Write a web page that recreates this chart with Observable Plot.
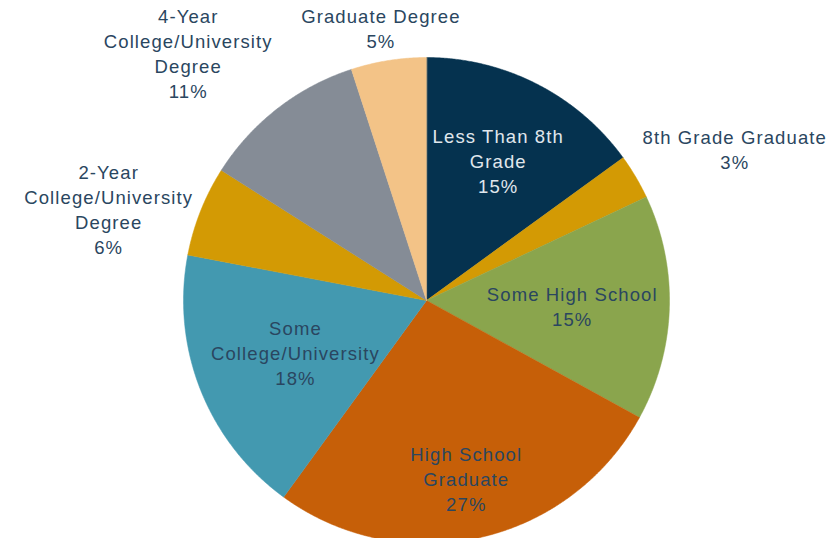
<!DOCTYPE html>
<html><head><meta charset="utf-8">
<script src="https://cdn.jsdelivr.net/npm/d3@7"></script>
<script src="https://cdn.jsdelivr.net/npm/@observablehq/plot@0.6"></script>
<style>body{margin:0;background:#fff}</style>
</head><body><div id="chart"></div>
<script>
// ---- data ----
const categories = ["Less Than 8th Grade", "8th Grade Graduate", "Some High School", "High School Graduate",
  "Some College/University", "2-Year College/University Degree", "4-Year College/University Degree", "Graduate Degree"];
const labelText = ["Less Than 8th\nGrade", "8th Grade Graduate", "Some High School", "High School\nGraduate",
  "Some\nCollege/University", "2-Year\nCollege/University\nDegree", "4-Year\nCollege/University\nDegree", "Graduate Degree"];
const shares = [15, 3, 15, 27, 18, 6, 11, 5];
const palette = ["#05324f", "#d39a04", "#8aa54d", "#c65f08", "#4399b0", "#d39a04", "#858c96", "#f3c387"];

// ---- layout ----
const W = 829, H = 538, cx = 426, cy = 300, R = 243;
const FONT = 18.5, LS = 1.1, LH = 25;
const dark = "#2a4660", light = "#e0e7ed";

const rows = categories.map((c, i) => ({cat: c, share: shares[i], label: labelText[i] + "\n" + shares[i] + "%"}));
const arcs = d3.pie().sort(null).value(d => d.share)(rows);

// polygon points of each slice (unit radius)
const pts = [];
for (const a of arcs) {
  pts.push({cat: a.data.cat, x: 0, y: 0});
  const n = Math.max(2, Math.ceil((a.endAngle - a.startAngle) / 0.005));
  for (let k = 0; k <= n; k++) {
    const t = a.startAngle + (a.endAngle - a.startAngle) * k / n;
    pts.push({cat: a.data.cat, x: Math.sin(t), y: Math.cos(t)});
  }
}

// label placement (pixel offsets from centre, y down)
const ctx = document.createElement("canvas").getContext("2d");
ctx.font = `${FONT}px "Liberation Sans", Arial, sans-serif`;
const measure = s => ctx.measureText(s).width + LS * s.length;
const clamp = v => Math.max(0, Math.min(1, v));
const labs = arcs.map((a, i) => {
  const m = (a.startAngle + a.endAngle) / 2, s = Math.sin(m), c = Math.cos(m);
  const lines = a.data.label.split("\n");
  const w = d3.max(lines, measure), h = lines.length * LH - 6;
  let px, py;
  if (a.data.share >= 15) {
    // inside: push outwards with the share, then pull in until the box fits
    let k = 0.5 + a.data.share / 100;
    const fits = k => {
      const x0 = s * k * R, y0 = -c * k * R;
      return [[-1, -1], [1, -1], [-1, 1], [1, 1]].every(([u, v]) =>
        Math.hypot(x0 + u * w / 2, y0 + v * h / 2) <= 0.96 * R);
    };
    while (k > 0.3 && !fits(k)) k -= 0.005;
    px = s * k * R; py = -c * k * R;
  } else {
    const ex = s * (R + 8), ey = -c * (R + 8);
    const sx = Math.sign(s) * clamp((Math.abs(s) - 0.13) * 3);
    const sy = -Math.sign(c) * clamp((Math.abs(c) - 0.37) * 7);
    px = ex + sx * w / 2; py = ey + sy * (h + 6) / 2;
  }
  return {label: a.data.label, x: px / R, y: -py / R, i};
});

const chart = Plot.plot({
  width: W, height: H,
  margin: 0,
  x: {domain: [-cx / R, (W - cx) / R], axis: null},
  y: {domain: [-(H - cy) / R, cy / R], axis: null},
  color: {domain: categories, range: palette},
  style: {fontFamily: '"Liberation Sans", Arial, sans-serif', letterSpacing: LS + "px", background: "#fff"},
  marks: [
    Plot.line(pts, {x: "x", y: "y", z: "cat", fill: "cat", stroke: "cat", strokeWidth: 0.5, curve: "linear-closed"}),
    Plot.text(labs, {x: "x", y: "y", text: "label", fontSize: FONT, lineHeight: LH / FONT,
      fill: d => d.i === 0 ? light : dark})
  ]
});
document.getElementById("chart").append(chart);
</script>
</body></html>
